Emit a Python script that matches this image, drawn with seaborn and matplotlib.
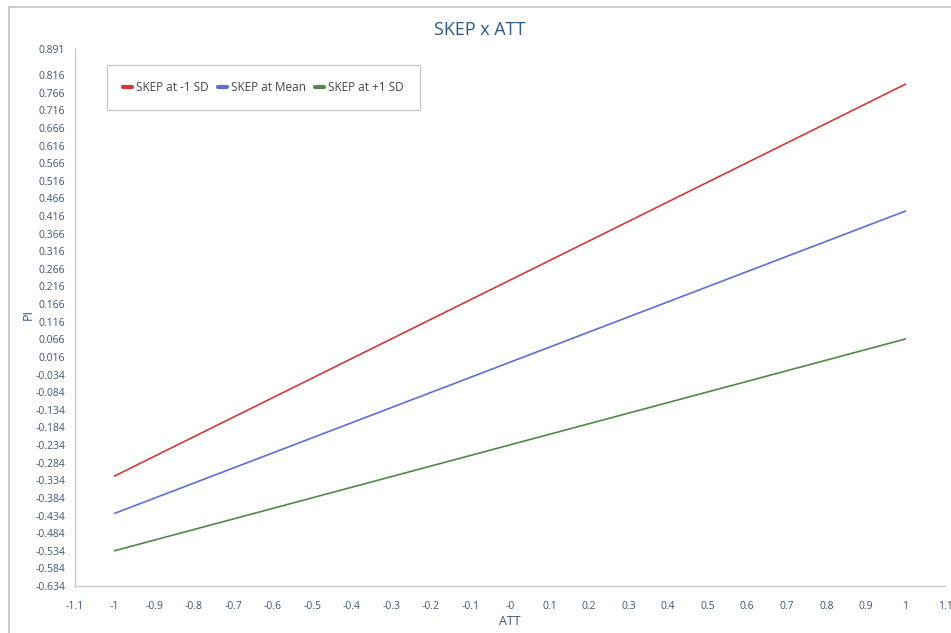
import matplotlib
matplotlib.use("Agg")
import matplotlib.pyplot as plt
import matplotlib.patches as mpatches
import numpy as np
import pandas as pd
import seaborn as sns

# Simple slopes: predicted PI at the ends of the ATT range
att = [-1, 1]
series_names = ["SKEP at -1 SD", "SKEP at Mean", "SKEP at +1 SD"]
pi_low = [-0.322, 0.790]
pi_mean = [-0.428, 0.430]
pi_high = [-0.534, 0.067]
line_colors = ["#d03a3a", "#5b6fd6", "#4e8a45"]

x_ticks = [-1.1, -1, -0.9, -0.8, -0.7, -0.6, -0.5, -0.4, -0.3, -0.2, -0.1, 0,
           0.1, 0.2, 0.3, 0.4, 0.5, 0.6, 0.7, 0.8, 0.9, 1, 1.1]
x_tick_labels = ["-1.1", "-1", "-0.9", "-0.8", "-0.7", "-0.6", "-0.5", "-0.4",
                 "-0.3", "-0.2", "-0.1", "-0", "0.1", "0.2", "0.3", "0.4", "0.5",
                 "0.6", "0.7", "0.8", "0.9", "1", "1.1"]
y_top = 0.891
y_ticks = [0.891] + [round(0.816 - 0.05 * i, 3) for i in range(30)]

df = pd.DataFrame({
    "ATT": att * 3,
    "PI": pi_low + pi_mean + pi_high,
    "series": [n for n in series_names for _ in att],
})

sns.set_theme(style="white")
plt.rcParams["font.family"] = ["Open Sans", "DejaVu Sans"]

tick_color = "#3d5673"
spine_color = "#c8c8c8"

fig = plt.figure(figsize=(9.51, 6.33), dpi=100)
ax = fig.add_axes([75 / 951, 1 - 586 / 633, 870 / 951, (586 - 48.6) / 633])

sns.lineplot(data=df, x="ATT", y="PI", hue="series", hue_order=series_names,
             palette=line_colors, linewidth=1.2, ax=ax, legend=True)

ax.set_xlim(-1.1, 1.1)
ax.set_ylim(-0.634, y_top)
ax.set_xticks(x_ticks)
ax.set_xticklabels(x_tick_labels)
ax.set_yticks(y_ticks)
ax.set_yticklabels([f"{v:.3f}" for v in y_ticks])

ax.tick_params(axis="both", which="both", direction="out", length=5, width=0.8,
               color=spine_color, labelcolor=tick_color, labelsize=7.5, pad=2)
ax.tick_params(axis="x", pad=6)
for side in ["top", "right"]:
    ax.spines[side].set_visible(False)
for side in ["left", "bottom"]:
    ax.spines[side].set_color(spine_color)
    ax.spines[side].set_linewidth(1.0)

ax.set_xlabel("ATT", color=tick_color, fontsize=9, labelpad=2)
ax.set_ylabel("PI", color=tick_color, fontsize=9, labelpad=0)
ax.yaxis.set_label_coords(-0.046, 0.505)
ax.set_title("SKEP x ATT", color="#2a5b8c", fontsize=13, pad=10)
ax.title.set_position((0.465, 1.0))

leg = ax.legend(loc="upper left",
                bbox_to_anchor=((107 - 75) / 870, 1 - (65 - 48.6) / 537.4),
                borderaxespad=0.0, ncol=3, frameon=True, fontsize=8.5,
                handlelength=0.75, handletextpad=0.35, columnspacing=0.8,
                borderpad=1.35, fancybox=False, title=None)
leg.get_frame().set_edgecolor("#b8b8b8")
leg.get_frame().set_linewidth(0.9)
for h in leg.get_lines():
    h.set_linewidth(3)
for t in leg.get_texts():
    t.set_color("#444444")

# Outer panel frame
fig.patches.append(mpatches.Rectangle((9 / 951, -0.1), 1.2, (633 - 7) / 633 + 0.1,
                                      transform=fig.transFigure, fill=False,
                                      edgecolor="#c4c4c4", linewidth=1.2))

fig.savefig("out.png", dpi=100)
